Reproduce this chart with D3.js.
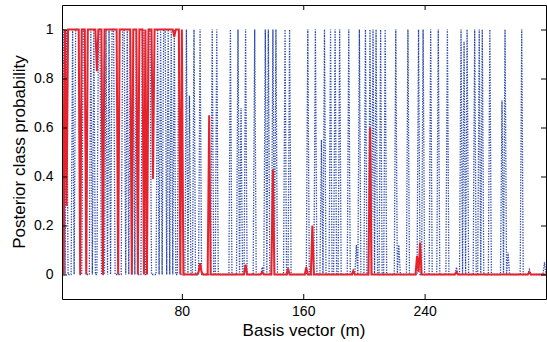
<!DOCTYPE html>
<html>
<head>
<meta charset="utf-8">
<script src="https://cdn.jsdelivr.net/npm/d3@7"></script>
<style>
  body { margin: 0; background: #fff; }
  svg { display: block; font-family: 'Liberation Sans', Arial, sans-serif; }
  .axis path, .axis line { stroke: #000; }
  .axis text { font-size: 14px; fill: #000; }
  .label { font-size: 17px; fill: #000; }
</style>
</head>
<body>
<svg id="chart"></svg>
<script>
const xTicks = [80, 160, 240];
const yTicks = [0, 0.2, 0.4, 0.6, 0.8, 1];

// posterior per basis vector m = 1..320
const blueSeries = [
  0, 1, 0, 1, 0, 0, 0, 1, 0, 1, 1, 1, 0, 0, 1, 1, 0, 0, 0, 1,
  0, 1, 0, 0, 1, 1, 0, 0, 0, 1, 0, 1, 0, 1, 1, 0, 0, 0, 0, 0,
  1, 1, 0, 1, 0, 1, 0, 1, 0, 1, 0, 0, 0, 1, 1, 0, 0, 1, 1, 0,
  0, 0, 0, 1, 0, 1, 0, 1, 1, 0, 1, 0, 1, 0, 1, 0, 0, 1, 0, 0,
  0, 0, 1, 0, .73, 0, 0, 1, 0, 0, 0, 1, 0, 0, 0, 0, 0, 0, 0, 1,
  0, 0, 1, 0, 0, 0, 0, 0, 0, 0, 0, 1, 0, 0, 0, 0, 1, 0, .68, 0,
  0, 1, 0, 0, 0, 0, 0, 1, 0, 0, 0, 0, .03, 0, 1, 0, 1, 0, 0, 1,
  0, 1, 0, 0, 0, 0, 0, 1, 0, 0, 1, 0, 0, 0, 0, 0, 0, 0, 0, 0,
  0, 0, 1, 0, 0, 0, 0, 1, 0, 0, 0, .55, 0, 1, 0, 0, 0, 1, 0, 0,
  1, 0, 0, 1, 0, 0, 0, 0, 0, 1, 0, 0, 0, 0, .12, 0, 1, 0, 0, 0,
  1, 0, 0, 1, 0, 1, 0, 1, 0, 0, 1, 0, 0, 1, 0, 0, 0, 0, 0, 0,
  1, 0, .12, 0, 0, 0, 0, 0, 1, 0, 0, 0, 0, 0, 0, 1, 0, 0, 1, 0,
  0, 0, 0, 1, 0, 0, 0, 0, 1, 0, 0, 0, 0, 0, 1, 0, 0, 0, 0, 0,
  .03, 0, 0, 1, 0, .95, 0, 1, 0, 0, 0, 0, 1, 0, 0, 1, 0, 1, 0, 0,
  0, 0, 1, 0, 0, 0, 0, 0, 0, 0, .71, 0, 1, 0, .09, 0, 0, 0, 0, 0,
  0, 0, 0, 1, 0, 0, 0, 0, .02, 0, 0, 0, 0, 0, 0, 0, 0, 0, .05, 0
];

const redSeries = [
  1, 0, 1, .28, 1, 1, 1, 1, 1, 1, 1, 1, 0, 1, 1, 1, 0, 1, 1, 1,
  1, 1, 1, .83, 1, 1, 1, 0, 1, 1, 1, 1, 1, 1, 1, 1, 1, 0, 1, 1,
  1, 1, 1, 1, 1, 1, 0, 1, 1, 1, 0, 1, 1, 1, 0, 1, 0, 1, 1, 1,
  .39, 1, 1, 1, 1, 1, 1, 1, 1, 1, 1, 1, 1, 1, .97, 1, 1, 1, 0, 1,
  0, 0, 0, 0, 0, 0, 0, 0, 0, 0, .01, .046, .01, 0, 0, 0, 0, .65, 0, 0,
  0, 0, 0, 0, 0, 0, 0, 0, 0, 0, 0, 0, 0, 0, 0, 0, 0, 0, 0, 0,
  0, .04, 0, 0, 0, 0, 0, 0, 0, 0, 0, 0, .01, 0, 0, 0, 0, 0, 0, .43,
  0, 0, 0, 0, 0, 0, 0, 0, 0, .025, 0, 0, 0, 0, 0, 0, 0, 0, 0, 0,
  0, .03, 0, 0, 0, .2, 0, 0, 0, 0, 0, 0, 0, 0, 0, 0, 0, 0, 0, 0,
  0, 0, 0, 0, 0, 0, 0, 0, 0, 0, 0, 0, .015, 0, 0, 0, 0, 0, 0, 0,
  0, 0, 0, .6, 0, 0, 0, 0, 0, 0, 0, 0, 0, 0, 0, 0, 0, 0, 0, 0,
  0, 0, 0, 0, 0, 0, 0, 0, 0, 0, 0, 0, 0, 0, .075, .01, .13, 0, 0, 0,
  0, 0, 0, 0, 0, 0, 0, 0, 0, 0, 0, 0, 0, 0, 0, 0, 0, 0, 0, 0,
  .01, 0, 0, 0, 0, 0, 0, 0, 0, 0, 0, 0, 0, 0, 0, 0, 0, 0, 0, 0,
  0, 0, 0, 0, 0, 0, 0, 0, 0, 0, 0, 0, 0, 0, 0, 0, 0, 0, 0, 0,
  0, 0, 0, 0, 0, 0, 0, 0, .01, 0, 0, 0, 0, 0, 0, 0, 0, 0, 0, 0
];

const outerWidth = 547;
const outerHeight = 342;
const margin = { top: 5, right: 1, bottom: 43, left: 62 };
const innerWidth = outerWidth - margin.left - margin.right;
const innerHeight = outerHeight - margin.top - margin.bottom;

const svg = d3.select('#chart')
  .attr('width', outerWidth)
  .attr('height', outerHeight);

const chart = svg.append('g')
  .attr('transform', `translate(${ margin.left }, ${ margin.top })`);

const xScale = d3.scaleLinear()
  .domain([1, blueSeries.length])
  .range([0, innerWidth]);

const yScale = d3.scaleLinear()
  .domain([-0.1, 1.1])
  .range([innerHeight, 0]);

chart.append('clipPath')
  .attr('id', 'plot-area')
  .append('rect')
  .attr('width', innerWidth)
  .attr('height', innerHeight);

const line = d3.line()
  .x((d, i) => xScale(i + 1))
  .y((d) => yScale(d));

chart.append('path')
  .datum(blueSeries)
  .attr('clip-path', 'url(#plot-area)')
  .attr('fill', 'none')
  .attr('stroke', '#2b48a8')
  .attr('stroke-width', 1.3)
  .attr('stroke-dasharray', '1.3,1.3')
  .attr('d', line);

chart.append('path')
  .datum(redSeries)
  .attr('clip-path', 'url(#plot-area)')
  .attr('fill', 'none')
  .attr('stroke', '#e8222b')
  .attr('stroke-width', 2)
  .attr('d', line);

// box with inward ticks on all four sides
chart.append('g')
  .attr('class', 'axis x')
  .attr('transform', `translate(0, ${ innerHeight })`)
  .call(d3.axisBottom(xScale).tickValues(xTicks).tickSizeInner(-5).tickSizeOuter(0).tickPadding(7.5));

const topAxis = chart.append('g')
  .attr('class', 'axis')
  .call(d3.axisTop(xScale).tickValues(xTicks).tickSizeInner(-5).tickSizeOuter(0));
topAxis.selectAll('text').remove();

chart.append('g')
  .attr('class', 'axis y')
  .call(d3.axisLeft(yScale).tickValues(yTicks).tickSizeInner(-5).tickSizeOuter(0).tickPadding(8.5)
    .tickFormat(d3.format('~g')));

const rightAxis = chart.append('g')
  .attr('class', 'axis')
  .attr('transform', `translate(${ innerWidth }, 0)`)
  .call(d3.axisRight(yScale).tickValues(yTicks).tickSizeInner(-5).tickSizeOuter(0));
rightAxis.selectAll('text').remove();

chart.selectAll('.axis').attr('font-family', null).attr('font-size', null);

svg.append('text')
  .attr('class', 'label')
  .attr('x', margin.left + innerWidth / 2)
  .attr('y', 336)
  .attr('text-anchor', 'middle')
  .text('Basis vector (m)');

svg.append('text')
  .attr('class', 'label')
  .attr('transform', `translate(25, ${ margin.top + innerHeight / 2 }) rotate(-90)`)
  .attr('text-anchor', 'middle')
  .text('Posterior class probability');
</script>
</body>
</html>
